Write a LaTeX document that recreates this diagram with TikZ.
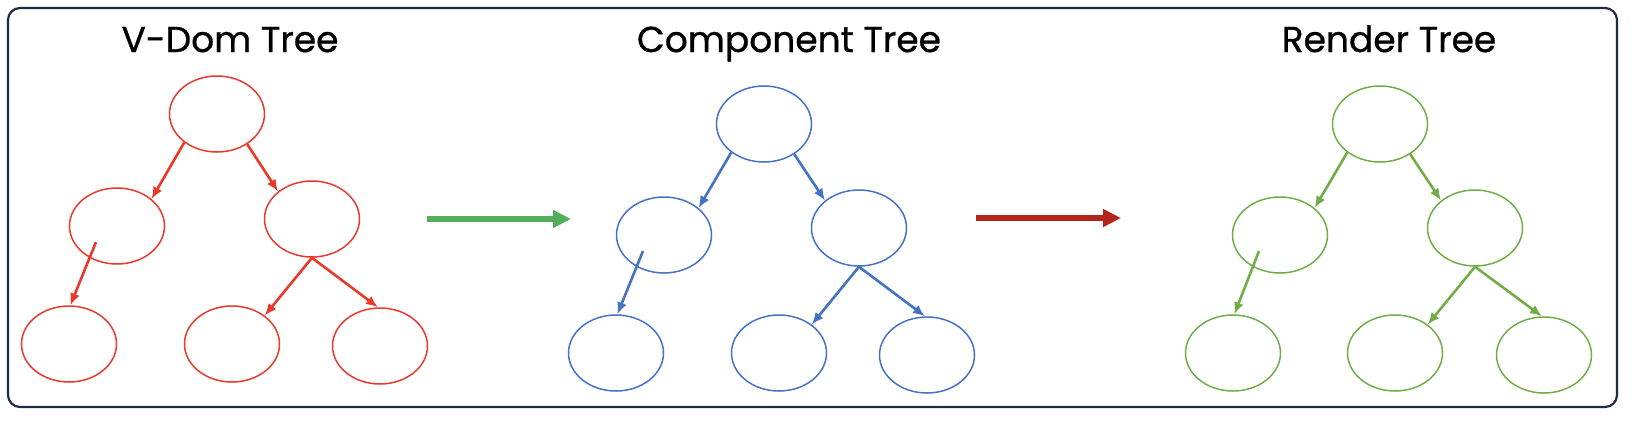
\documentclass[tikz,border=0pt]{standalone}
\usepackage{fontspec}
\setmainfont{Poppins}
\newfontfamily\titlefont{Poppins}[FakeBold = 0.8]
\usetikzlibrary{shapes.geometric, arrows.meta}
\definecolor{vdomred}{HTML}{E8392B}
\definecolor{compblue}{HTML}{4472C4}
\definecolor{rendgreen}{HTML}{70AD47}
\definecolor{passgreen}{HTML}{52AE5A}
\definecolor{passred}{HTML}{B3241A}
\definecolor{framenavy}{HTML}{1F2A44}

\begin{document}
\begin{tikzpicture}[x = 1pt, y = -1pt, >={Latex[length = 12pt, width = 10pt]}, line width = 2.6pt]
    \tikzstyle{leaf} = [draw, shape = ellipse, inner sep = 0pt, minimum width = 95pt, minimum height = 76pt, line width = 1.5pt]
    \tikzstyle{title} = [anchor = base, font = \titlefont\fontsize{36}{40}\selectfont]
    \tikzstyle{pass} = [line width = 6pt, -{Triangle[length = 18pt, width = 17pt]}]

    \useasboundingbox (0,0) rectangle (1632,432);
    \draw[framenavy, line width = 2.2pt, rounded corners = 12pt] (8,8) rectangle (1617,407);

    % V-Dom tree
    \node[title] (vtitle) at (230,52) {V-Dom Tree};
    \node[leaf, vdomred] (vroot) at (217,114) {};
    \node[leaf, vdomred] (vl) at (117,226) {};
    \node[leaf, vdomred] (vr) at (312,219) {};
    \node[leaf, vdomred] (vll) at (69,344) {};
    \node[leaf, vdomred] (vrl) at (232,344) {};
    \node[leaf, vdomred] (vrr) at (380,346) {};

    \draw[->, vdomred] (vroot.221) -- (vl.38);
    \draw[->, vdomred] (vroot.315) -- (vr.141);
    \draw[->, vdomred] ([shift = {(-21,16)}]vl.center) -- (vll.88);
    \draw[->, vdomred] (vr.south) -- (vrl.41);
    \draw[->, vdomred] (vr.south) -- (vrr.93);

    % Component tree
    \node[title] (ctitle) at (789,52) {Component Tree};
    \node[leaf, compblue] (croot) at (764,124) {};
    \node[leaf, compblue] (cl) at (664,235) {};
    \node[leaf, compblue] (cr) at (859,228) {};
    \node[leaf, compblue] (cll) at (616,353) {};
    \node[leaf, compblue] (crl) at (779,353) {};
    \node[leaf, compblue] (crr) at (927,355) {};

    \draw[->, compblue] (croot.221) -- (cl.38);
    \draw[->, compblue] (croot.315) -- (cr.141);
    \draw[->, compblue] ([shift = {(-21,16)}]cl.center) -- (cll.88);
    \draw[->, compblue] (cr.south) -- (crl.41);
    \draw[->, compblue] (cr.south) -- (crr.93);

    % Render tree
    \node[title] (rtitle) at (1389,52) {Render Tree};
    \node[leaf, rendgreen] (rroot) at (1380,124) {};
    \node[leaf, rendgreen] (rl) at (1280,235) {};
    \node[leaf, rendgreen] (rr) at (1475,228) {};
    \node[leaf, rendgreen] (rll) at (1233,353) {};
    \node[leaf, rendgreen] (rrl) at (1395,353) {};
    \node[leaf, rendgreen] (rrr) at (1544,355) {};

    \draw[->, rendgreen] (rroot.221) -- (rl.38);
    \draw[->, rendgreen] (rroot.315) -- (rr.141);
    \draw[->, rendgreen] ([shift = {(-21,16)}]rl.center) -- (rll.88);
    \draw[->, rendgreen] (rr.south) -- (rrl.41);
    \draw[->, rendgreen] (rr.south) -- (rrr.93);

    % passes between the trees
    \coordinate (g1) at (427,219);
    \coordinate (g2) at (571,219);
    \coordinate (r1) at (976,218);
    \coordinate (r2) at (1121,218);
    \draw[pass, passgreen] (g1) -- (g2);
    \draw[pass, passred] (r1) -- (r2);
\end{tikzpicture}
\end{document}
